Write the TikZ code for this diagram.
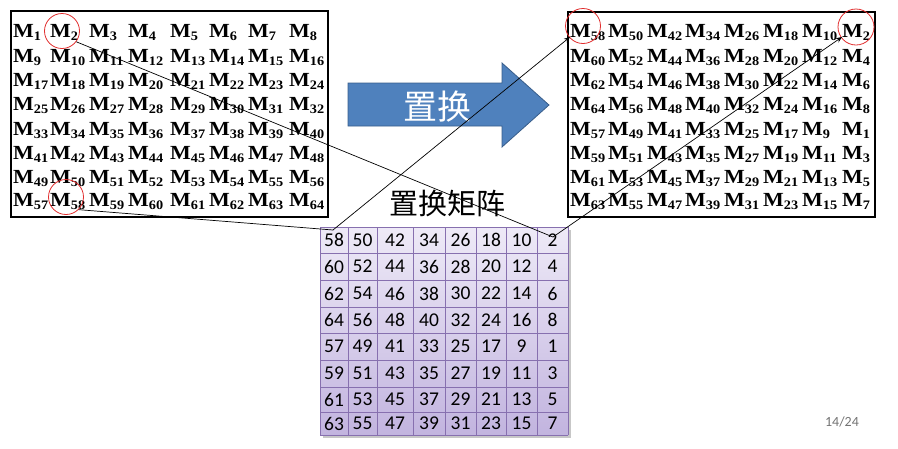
\documentclass[tikz,border=0pt]{standalone}
\usepackage{fontspec}
\setmainfont{Liberation Serif}
\newfontfamily\mfont[FakeStretch=1.1]{Liberation Serif Bold}
\newfontfamily\tabfont{Carlito}
\newfontfamily\cjk{Noto Sans CJK SC}
\usetikzlibrary{arrows.meta, calc}
\definecolor{permblue}{RGB}{79,129,189}
\definecolor{permedge}{RGB}{56,93,138}
\definecolor{celltop}{RGB}{238,234,247}
\definecolor{cellbot}{RGB}{194,180,223}
\definecolor{gridpurple}{RGB}{135,112,175}
\definecolor{ringred}{RGB}{225,45,45}
\newcommand{\Msub}[1]{{\mfont M\raisebox{-3.5pt}{\fontsize{13}{13}\selectfont #1}}}

\begin{document}
\begin{tikzpicture}[
    x=1pt, y=-1pt, >=Stealth,
    mbox/.style={rectangle, draw=black, line width=1.1pt, inner sep=0pt},
    ment/.style={anchor=base west, inner sep=0pt, font=\fontsize{20}{20}\selectfont},
    ring/.style={circle, draw=ringred, line width=0.8pt, minimum size=35pt, inner sep=0pt},
    tcell/.style={inner sep=0pt, font=\tabfont\fontsize{19.5}{19.5}\selectfont},
    link/.style={draw=black, line width=0.7pt},
    lk/.style={link, -{Stealth[length=6pt, width=5pt]}}
]
\useasboundingbox (0,0) rectangle (898,448);

% original block and permuted block
\node[mbox, minimum width=317pt, minimum height=206pt] (lbox) at (169.5,114) {};
\node[mbox, minimum width=307pt, minimum height=205pt] (rbox) at (721.5,114.5) {};

\foreach \y [count=\r] in {37,62,86,110,135,159,183,206}
  \foreach \x [count=\c] in {13,50,89,128,170,209,248,289} {
    \pgfmathtruncatemacro\n{8*(\r-1)+\c}
    \node[ment] (L-\r-\c) at (\x,\y) {\Msub{\n}};
  }

\foreach \y/\f [count=\r] in {37/58,62/60,86/62,110/64,135/57,159/59,183/61,206/63}
  \foreach \x [count=\c] in {570,608,647,685,724,763,802,842} {
    \pgfmathtruncatemacro\n{\f-8*(\c-1)}
    \node[ment] (R-\r-\c) at (\x,\y) {\Msub{\n}};
  }

% big arrow
\draw[fill=permblue, draw=permedge, line width=0.8pt]
    (348,83) -- (502,83) -- (502,63) -- (549,105) -- (502,147) -- (502,126) -- (348,126) -- cycle;
\node[text=white, font=\cjk\fontsize{34}{34}\selectfont] (ptxt) at (437,107) {置换};

\node[font=\cjk\fontsize{29}{29}\selectfont] (ptitle) at (447,203) {置换矩阵};

% permutation table
\fill[black!22] (323,230) rectangle (571,438);
\shade[top color=celltop, bottom color=cellbot] (320,227) rectangle (568,435);
\foreach \x in {320,348,377,413,445,476,506,537,568}
  \draw[gridpurple, line width=0.6pt] (\x,227) -- (\x,435);
\foreach \y in {227,253,280,307,333,360,387,412,435}
  \draw[gridpurple, line width=0.6pt] (320,\y) -- (568,\y);

\foreach \y/\f [count=\r] in {240/58,266.5/60,293.5/62,320/64,346.5/57,373.5/59,399.5/61,423.5/63}
  \foreach \x [count=\c] in {334,362.5,395,429,460.5,491,521.5,552.5} {
    \pgfmathtruncatemacro\n{\f-8*(\c-1)}
    \node[tcell] (t-\r-\c) at (\x,\y) {\n};
  }

% circled entries
\node[ring] (Lr2) at (62,31) {};
\node[ring] (Lr58) at (66,197) {};
\node[ring] (Rr58) at (583,26) {};
\node[ring, minimum size=36pt] (Rr2) at (856,27) {};

\coordinate (j58) at (333,230);
\coordinate (j2) at (553,237);

\draw[link] (Lr2.-37) -- (j2);
\draw[lk] (j2) -- (R-1-8.base west);
\draw[link] (Lr58.-45) -- (j58);
\draw[lk] (j58) -- (R-1-1.base west);

\node[text=black!55, font=\tabfont\fontsize{14}{14}\selectfont] (pgno) at (842,422) {14/24};
\end{tikzpicture}
\end{document}
